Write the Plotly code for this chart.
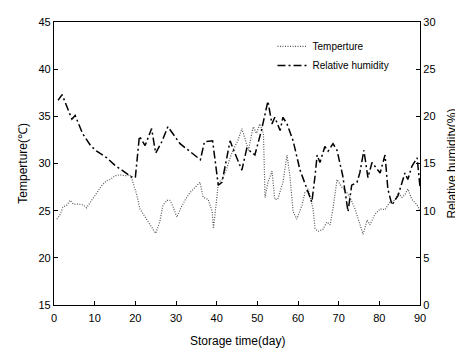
import plotly.graph_objects as go

temp_day = [0.7,1.5,2.2,3.2,4,4.7,6,7.2,8,9.3,10.5,11.8,13,13.8,15,16.2,17.5,18.7,19.2,20.4,
            21.1,22.4,23.6,25,26,26.8,27.8,28.5,29.3,30.2,31,32.2,33.4,34.7,35.9,36.7,37.9,38.9,39.2,40,
            40.4,41.3,42.5,43.3,44,45.2,46.2,47,47.8,49,49.8,50.6,51.5,51.9,52.6,53.6,54.3,55,56.3,57.3,
            58,58.8,59.7,61,61.7,62.5,63.7,64.2,64.9,66.1,67.1,67.9,68.6,69.6,70.8,72,72.8,74,75.2,76,
            77,77.7,78.9,80.2,81.4,82.6,83.8,84.6,85.6,86.3,87,88,89.3,90]
temperature = [24.1,24.6,25.4,25.6,26.1,25.7,25.7,25.6,25.3,26.1,26.9,27.7,28.2,28.3,28.7,28.8,28.7,28.8,28.3,26.6,
               25.2,24.3,23.6,22.6,23.8,25.6,26.1,26.1,25.4,24.3,25.1,26.1,26.9,27.5,28,26.4,26.2,24.9,23.1,26.2,
               28,28.3,29.5,30.6,31.4,32.4,33.7,32.6,31.4,33.9,33.2,34.2,33.2,26.4,28,29.2,26.2,26.2,28,30.9,
               28.7,24.9,24.1,25.6,26.9,27.3,25.2,23.1,22.8,23,23.8,23.5,25.2,28.3,27.5,26.9,26.4,25.2,23.5,22.5,
               24,23.5,24.6,25.2,25.1,25.9,26.1,26.9,26.4,26.7,27.3,26.2,25.6,25.0]

rh_day = [1,2,4.4,5.2,7,9,10.5,13,15,17,19,20,21,22.4,24,25,26.5,28,31,36,
          37,39,40.4,41.3,43.3,44,46.2,47.4,48.2,49.4,51,52.6,53.6,54.3,55.6,56.3,57.3,58.8,60.5,62.2,
          63.4,64.2,64.7,65.4,66.6,67.4,68.6,69.6,71,72.3,73.2,74.5,75.2,76.2,77.2,78.2,79.2,80.2,81.4,82.1,
          83.1,84.6,86.3,87,88,89.3,90]
humidity = [21.7,22.3,19.7,20.1,18.2,16.9,16.3,15.6,14.8,14.2,13.6,13.5,17.9,16.9,18.7,16.1,17.3,18.9,17.1,15.4,
            17.3,17.4,12.7,13,17.4,16.6,14.3,16.6,16.3,15.9,18.5,21.6,19.2,19.9,18.5,19.9,19.2,17.4,14.3,12.3,
            10.9,13.7,15.9,15.1,16.8,16.3,17.1,16.4,13.7,9.9,12.7,13,14,16.4,13.5,15.1,14.5,14,15.9,12.3,
            10.6,11.6,14,13.3,14.7,15.6,12.5]

x_ticks = list(range(0, 91, 10))
left_ticks = list(range(15, 46, 5))
right_ticks = list(range(0, 31, 5))

FAM = "Liberation Sans, Arial, sans-serif"
font = dict(family=FAM, color="black", size=11)

fig = go.Figure()
fig.add_trace(go.Scatter(x=temp_day, y=temperature, mode="lines", name="Temperture",
                         line=dict(color="#555555", width=1.2, dash="1px,1.5px")))
fig.add_trace(go.Scatter(x=rh_day, y=humidity, mode="lines", name="Relative humidity", yaxis="y2",
                         line=dict(color="black", width=1.5, dash="8px,3px,2px,3px")))

axis_common = dict(ticks="inside", ticklen=4, tickcolor="black", showline=True, linecolor="black",
                   linewidth=1.3, showgrid=False, zeroline=False)

# page body has an 8px default margin, so the figure is 8px smaller than the window
fig.update_layout(
    width=455, height=341,
    margin=dict(l=46, r=43, t=8, b=44),
    paper_bgcolor="white", plot_bgcolor="white",
    font=font,
    showlegend=True,
    legend=dict(x=0.597, y=0.965, xanchor="left", yanchor="top", bgcolor="rgba(0,0,0,0)",
                font=dict(size=10, family=FAM),
                tracegroupgap=0, itemwidth=30),
    xaxis=dict(range=[0, 90], tickvals=x_ticks, mirror=True, ticklabelstandoff=3, **axis_common),
    yaxis=dict(range=[15, 45], tickvals=left_ticks, mirror=True, **axis_common),
    yaxis2=dict(range=[0, 30], tickvals=right_ticks, overlaying="y", side="right", **axis_common),
    annotations=[
        dict(text="Storage time(day)", xref="paper", yref="paper", x=0.5, y=-0.128,
             showarrow=False, font=dict(size=12, family=FAM, color="black"),
             xanchor="center", yanchor="middle"),
        dict(text="Temperture(℃)", xref="paper", yref="paper", x=-0.087, y=0.5,
             textangle=-90, showarrow=False, font=dict(size=12, family=FAM, color="black"),
             xanchor="center", yanchor="middle"),
        dict(text="Relative humidity(%)", xref="paper", yref="paper", x=1.085, y=0.5,
             textangle=-90, showarrow=False, font=dict(size=12, family=FAM, color="black"),
             xanchor="center", yanchor="middle"),
    ],
)

fig.write_html("out.html")
